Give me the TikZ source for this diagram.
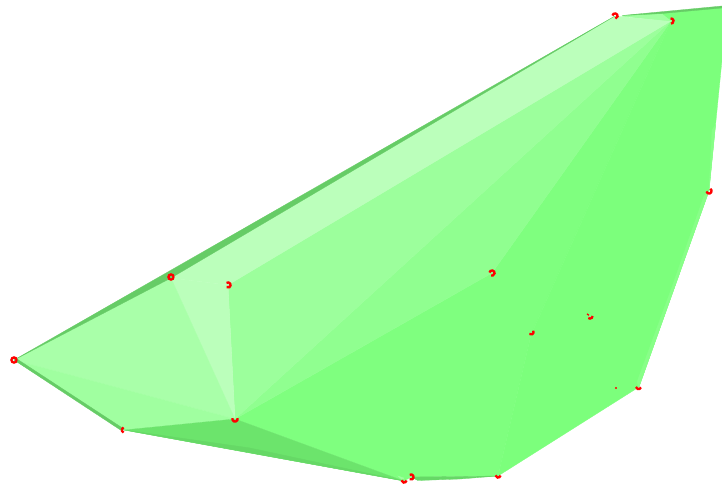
\documentclass[tikz,border=0pt]{standalone}
\usepackage{xcolor}
\definecolor{facebase}{HTML}{7CFF7C}
\definecolor{facesoft}{HTML}{7FFF7F}
\definecolor{faceband}{HTML}{88FF88}
\definecolor{facefan}{HTML}{90FF90}
\definecolor{facemid}{HTML}{9CFF9C}
\definecolor{facelow}{HTML}{A0FFA0}
\definecolor{facepale}{HTML}{A9FFA9}
\definecolor{faceair}{HTML}{BBFFBB}
\definecolor{facedeep}{HTML}{6CE46C}
\definecolor{faceedge}{HTML}{66D866}
\definecolor{facedark}{HTML}{66CC66}
\definecolor{pointred}{HTML}{FF0000}
\tikzset{
  basefill/.style={fill=facebase,draw=facebase,line width=0.3pt},
  softfill/.style={fill=facesoft,draw=facesoft,line width=0.3pt},
  bandfill/.style={fill=faceband,draw=faceband,line width=0.3pt},
  fanfill/.style={fill=facefan,draw=facefan,line width=0.3pt},
  midfill/.style={fill=facemid,draw=facemid,line width=0.3pt},
  lowfill/.style={fill=facelow,draw=facelow,line width=0.3pt},
  palefill/.style={fill=facepale,draw=facepale,line width=0.3pt},
  airfill/.style={fill=faceair,draw=faceair,line width=0.3pt},
  deepfill/.style={fill=facedeep,draw=facedeep,line width=0.3pt},
  edgefill/.style={fill=faceedge,draw=faceedge,line width=0.3pt},
  darkfill/.style={fill=facedark,draw=facedark,line width=0.3pt},
  hitarc/.style={draw=pointred,line width=2.3pt}
}

\begin{document}
\begin{tikzpicture}[x=1pt,y=-1pt]
    \path[use as bounding box] (0,0) rectangle (722,489);

    \coordinate (left) at (14,360);
    \coordinate (upper) at (171,278);
    \coordinate (inner) at (228,285);
    \coordinate (hub) at (235,419);
    \coordinate (low) at (124,430);
    \coordinate (foot) at (404,481);
    \coordinate (footb) at (411,477);
    \coordinate (bottom) at (498,476);
    \coordinate (corner) at (639,387);
    \coordinate (side) at (709,191);
    \coordinate (apex) at (671,21);
    \coordinate (top) at (615,16);
    \coordinate (mid) at (492,273);
    \coordinate (deep) at (531,335);

    % main body
    \path[softfill] (hub) -- (mid) -- (apex) -- (deep) -- (bottom) -- (footb) -- (foot) -- cycle;
    \path[basefill] (deep) -- (apex) -- (622,16) -- (722,7) -- (722,60) -- (side)
      -- (corner) -- (bottom) -- cycle;
    \path[bandfill] (side) -- (corner) -- (637,382) -- (672,287) -- (704,196) -- cycle;
    \path[bandfill] (side) -- (715.5,125) -- (712,130) -- cycle;

    % lit faces
    \path[fanfill] (hub) -- (apex) -- (mid) -- cycle;
    \path[midfill] (inner) -- (apex) -- (hub) -- cycle;
    \path[airfill] (inner) -- (upper) -- (top) -- (apex) -- cycle;
    \path[airfill] (upper) -- (inner) -- (hub) -- cycle;
    \path[palefill] (left) -- (upper) -- (hub) -- cycle;
    \path[lowfill] (left) -- (hub) -- (low) -- cycle;
    \path[lowfill] (622,16) -- (apex) -- (662,14) -- cycle;

    % dark faces
    \path[deepfill] (low) -- (hub) -- (foot) -- cycle;
    \path[edgefill] (low) -- (250,448) -- (foot) -- cycle;
    \path[darkfill] (left) -- (top) -- (upper) -- cycle;
    \path[darkfill] (left) -- (122,431) -- (124,429) -- (17,359) -- cycle;
    \path[darkfill] (622,15.5) -- (722,6) -- (722,8) -- (662,13.5) -- cycle;
    \path[edgefill] (footb) -- (bottom) -- (460,479) -- (418,480.5) -- cycle;
    \path[lowfill] (398,476) -- (404,478) -- (402,479.5) -- cycle;

    % hit points
    \foreach \px/\py/\from/\to in {14/360/0/360,171/277/0/360,228/285/-125/125,
        235/419/-20/200,124/430/100/175,124/430/185/260,411/477/-120/120,
        404/480/10/170,498/475/10/170,638.5/386.5/20/170,709/191/-60/170,
        671/21/-100/90,615/16/-170/80,492/273/-170/110,531/332/-30/130,
        590/316/0/130,590/316/200/230}
      \draw[hitarc] (\px,\py) ++(\from:2.6) arc[start angle=\from,end angle=\to,radius=2.6];
    \fill[pointred] (616,388) circle[radius=1.2];
\end{tikzpicture}
\end{document}
